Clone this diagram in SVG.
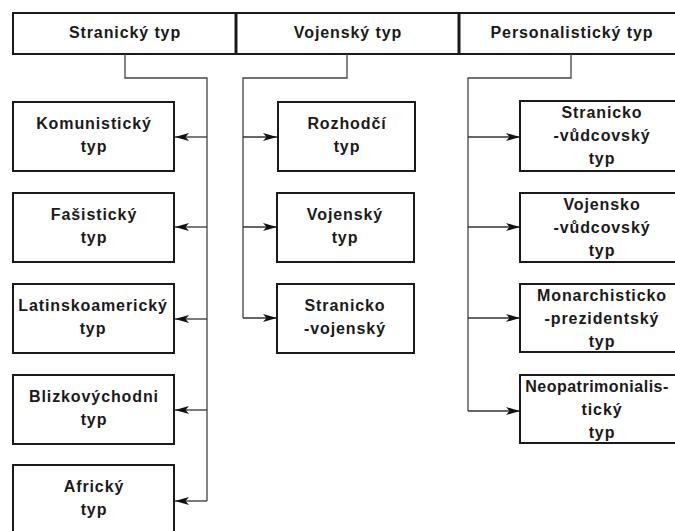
<svg xmlns="http://www.w3.org/2000/svg" width="675" height="531" viewBox="0 0 675 531">
  <style>
    .box { fill: #ffffff; stroke: #1a1a1a; stroke-width: 2; }
    .div { stroke: #1a1a1a; stroke-width: 3; }
    .lbl { font-family: "Liberation Sans", Arial, sans-serif; font-weight: bold; font-size: 16px; letter-spacing: 0.9px; fill: #1a1a1a; text-anchor: middle; }
    .tight { letter-spacing: 0.5px; }
    .wire { fill: none; stroke: #444444; stroke-width: 1.3; }
    .arrow { fill: none; stroke: #333333; stroke-width: 1.3; marker-end: url(#head); }
  </style>
  <defs>
    <marker id="head" viewBox="0 0 14 9" refX="14" refY="4.5" markerWidth="14" markerHeight="9" markerUnits="userSpaceOnUse" orient="auto">
      <path d="M0,0.5 L14,4.5 L0,8.5 L3.5,4.5 Z" fill="#111111"/>
    </marker>
  </defs>

  <rect width="675" height="531" fill="#ffffff"/>

  <!-- header strip with the three main types -->
  <g id="header">
    <rect class="box" x="13" y="13" width="680" height="41"/>
    <line class="div" x1="236" y1="13" x2="236" y2="54"/>
    <line class="div" x1="459" y1="13" x2="459" y2="54"/>
  </g>
  <g id="stranicky">
    <text class="lbl" x="125" y="38">Stranický typ</text>
  </g>
  <g id="vojensky">
    <text class="lbl" x="348" y="38">Vojenský typ</text>
  </g>
  <g id="personalisticky">
    <text class="lbl" x="572" y="38">Personalistický typ</text>
  </g>

  <!-- connectors -->
  <g id="connectors">
    <path class="wire" d="M125,54 V78 H207 V501"/>
    <path class="arrow" d="M207,137 H175"/>
    <path class="arrow" d="M207,227 H175"/>
    <path class="arrow" d="M207,319 H175"/>
    <path class="arrow" d="M207,410 H175"/>
    <path class="arrow" d="M207,501 H175"/>

    <path class="wire" d="M347,54 V78 H243 V318"/>
    <path class="arrow" d="M243,137 H277"/>
    <path class="arrow" d="M243,227 H277"/>
    <path class="arrow" d="M243,318 H277"/>

    <path class="wire" d="M571,54 V78 H468 V411"/>
    <path class="arrow" d="M468,137 H520"/>
    <path class="arrow" d="M468,227 H520"/>
    <path class="arrow" d="M468,318 H520"/>
    <path class="arrow" d="M468,411 H520"/>
  </g>

  <!-- left column -->
  <g id="komunisticky">
    <rect class="box" x="13" y="102" width="161" height="69"/>
    <text class="lbl" x="94" y="129">Komunistický</text>
    <text class="lbl" x="94" y="152">typ</text>
  </g>
  <g id="fasisticky">
    <rect class="box" x="13" y="193" width="161" height="69"/>
    <text class="lbl" x="94" y="220">Fašistický</text>
    <text class="lbl" x="94" y="243">typ</text>
  </g>
  <g id="latinskoamericky">
    <rect class="box" x="13" y="284" width="161" height="69"/>
    <text class="lbl" x="93" y="311">Latinskoamerický</text>
    <text class="lbl" x="93" y="334">typ</text>
  </g>
  <g id="blizkovychodni">
    <rect class="box" x="13" y="375" width="161" height="69"/>
    <text class="lbl" x="94" y="402">Blizkovýchodni</text>
    <text class="lbl" x="94" y="425">typ</text>
  </g>
  <g id="africky">
    <rect class="box" x="13" y="465" width="161" height="69"/>
    <text class="lbl" x="94" y="492">Africký</text>
    <text class="lbl" x="94" y="515">typ</text>
  </g>

  <!-- middle column -->
  <g id="rozhodci">
    <rect class="box" x="278" y="102" width="137" height="69"/>
    <text class="lbl" x="347" y="129">Rozhodčí</text>
    <text class="lbl" x="347" y="152">typ</text>
  </g>
  <g id="vojensky-typ">
    <rect class="box" x="277" y="193" width="137" height="69"/>
    <text class="lbl" x="345" y="220">Vojenský</text>
    <text class="lbl" x="345" y="243">typ</text>
  </g>
  <g id="stranicko-vojensky">
    <rect class="box" x="277" y="284" width="137" height="69"/>
    <text class="lbl" x="345" y="311">Stranicko</text>
    <text class="lbl" x="345" y="334">-vojenský</text>
  </g>

  <!-- right column -->
  <g id="stranicko-vudcovsky">
    <rect class="box" x="520" y="101" width="170" height="70"/>
    <text class="lbl" x="602" y="118">Stranicko</text>
    <text class="lbl" x="602" y="141">-vůdcovský</text>
    <text class="lbl" x="602" y="164">typ</text>
  </g>
  <g id="vojensko-vudcovsky">
    <rect class="box" x="520" y="193" width="170" height="69"/>
    <text class="lbl" x="602" y="210">Vojensko</text>
    <text class="lbl" x="602" y="233">-vůdcovský</text>
    <text class="lbl" x="602" y="256">typ</text>
  </g>
  <g id="monarchisticko-prezidentsky">
    <rect class="box" x="520" y="284" width="170" height="68"/>
    <text class="lbl" x="602" y="301">Monarchisticko</text>
    <text class="lbl" x="602" y="324">-prezidentský</text>
    <text class="lbl" x="602" y="347">typ</text>
  </g>
  <g id="neopatrimonialisticky">
    <rect class="box" x="520" y="375" width="170" height="68"/>
    <text class="lbl tight" x="597" y="392">Neopatrimonialis-</text>
    <text class="lbl" x="602" y="415">tický</text>
    <text class="lbl" x="602" y="438">typ</text>
  </g>
</svg>
